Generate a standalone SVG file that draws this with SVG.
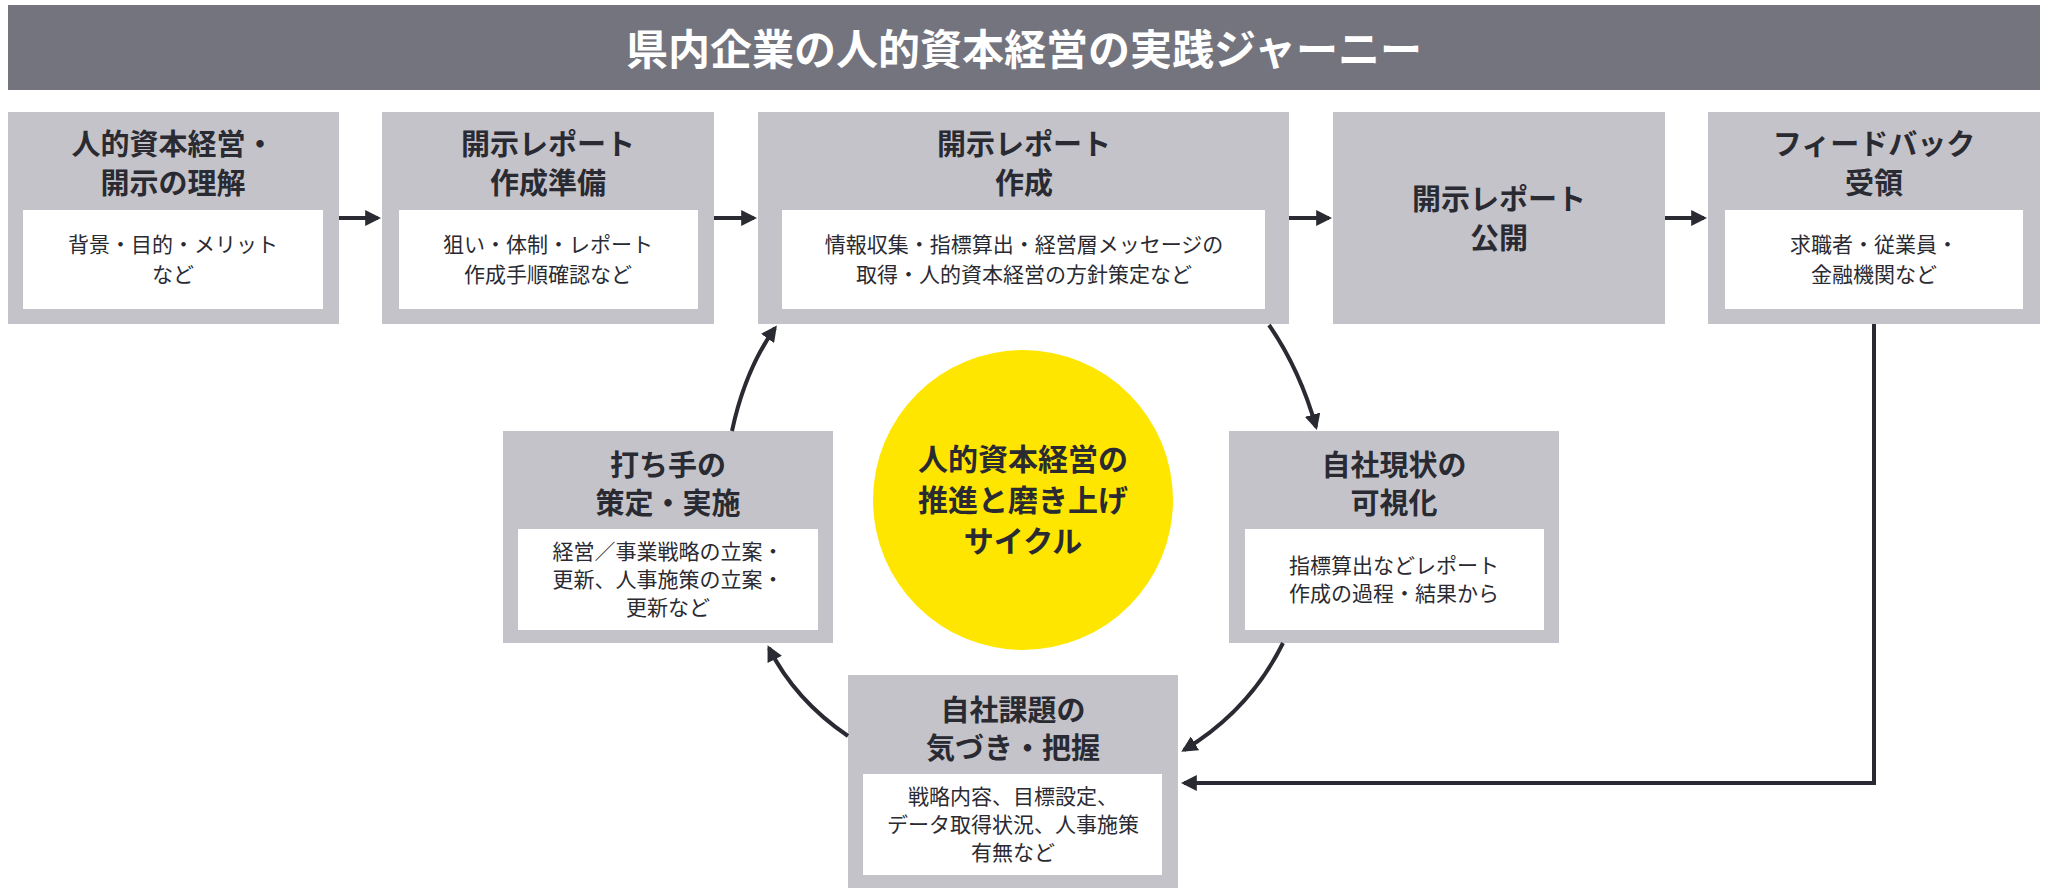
<svg xmlns="http://www.w3.org/2000/svg" width="2048" height="895" viewBox="0 0 2048 895">
<defs>
<style>
.box{fill:#c3c3c9}
.in{fill:#fff}
text{font-family:"Noto Sans CJK JP","Noto Sans",sans-serif;fill:#2a2a32;text-anchor:middle;dominant-baseline:central}
.t{font-size:29px;font-weight:700}
.b{font-size:21px}
.y{font-size:30px;font-weight:700}
.c{stroke:#2a2a32;stroke-width:4;fill:none}
</style>
<marker id="ah" viewBox="0 0 10 10" refX="8" refY="5" markerWidth="4" markerHeight="4" orient="auto"><path d="M0,0L10,5L0,10z" fill="#2a2a32"/></marker>
</defs>
<rect width="2048" height="895" fill="#fff"/>
<g id="title"><rect x="8" y="5" width="2032" height="85" fill="#74747e"/>
<text x="1024" y="46" style="font-size:42px;font-weight:700;fill:#fff">県内企業の人的資本経営の実践ジャーニー</text></g>
<g id="n1"><rect class="box" x="8" y="112" width="331" height="212"/><rect class="in" x="23" y="210" width="300" height="99"/>
<text class="t" x="173" y="142">人的資本経営・</text><text class="t" x="173" y="181">開示の理解</text>
<text class="b" x="173" y="243">背景・目的・メリット</text><text class="b" x="173" y="273">など</text></g>
<g id="n2"><rect class="box" x="382" y="112" width="332" height="212"/><rect class="in" x="399" y="210" width="299" height="99"/>
<text class="t" x="548" y="142">開示レポート</text><text class="t" x="548" y="181">作成準備</text>
<text class="b" x="548" y="243">狙い・体制・レポート</text><text class="b" x="548" y="273">作成手順確認など</text></g>
<g id="n3"><rect class="box" x="758" y="112" width="531" height="212"/><rect class="in" x="782" y="210" width="483" height="99"/>
<text class="t" x="1024" y="142">開示レポート</text><text class="t" x="1024" y="181">作成</text>
<text class="b" x="1024" y="243">情報収集・指標算出・経営層メッセージの</text><text class="b" x="1024" y="273">取得・人的資本経営の方針策定など</text></g>
<g id="n4"><rect class="box" x="1333" y="112" width="332" height="212"/>
<text class="t" x="1499" y="197">開示レポート</text><text class="t" x="1499" y="236">公開</text></g>
<g id="n5"><rect class="box" x="1708" y="112" width="332" height="212"/><rect class="in" x="1725" y="210" width="298" height="99"/>
<text class="t" x="1874" y="142">フィードバック</text><text class="t" x="1874" y="181">受領</text>
<text class="b" x="1874" y="243">求職者・従業員・</text><text class="b" x="1874" y="273">金融機関など</text></g>
<g id="center"><circle cx="1023" cy="500" r="150" fill="#ffe600"/>
<text class="y" x="1023" y="457">人的資本経営の</text>
<text class="y" x="1023" y="498">推進と磨き上げ</text>
<text class="y" x="1023" y="539">サイクル</text></g>
<g id="n6"><rect class="box" x="503" y="431" width="330" height="212"/><rect class="in" x="518" y="529" width="300" height="101"/>
<text class="t" x="668" y="463">打ち手の</text><text class="t" x="668" y="501">策定・実施</text>
<text class="b" x="668" y="550">経営／事業戦略の立案・</text><text class="b" x="668" y="578">更新、人事施策の立案・</text><text class="b" x="668" y="606">更新など</text></g>
<g id="n7"><rect class="box" x="1229" y="431" width="330" height="212"/><rect class="in" x="1245" y="529" width="299" height="101"/>
<text class="t" x="1394" y="463">自社現状の</text><text class="t" x="1394" y="501">可視化</text>
<text class="b" x="1394" y="564">指標算出などレポート</text><text class="b" x="1394" y="592">作成の過程・結果から</text></g>
<g id="n8"><rect class="box" x="848" y="675" width="330" height="213"/><rect class="in" x="863" y="774" width="299" height="101"/>
<text class="t" x="1013" y="708">自社課題の</text><text class="t" x="1013" y="746">気づき・把握</text>
<text class="b" x="1013" y="795">戦略内容、目標設定、</text><text class="b" x="1013" y="823">データ取得状況、人事施策</text><text class="b" x="1013" y="851">有無など</text></g>
<g id="connectors">
<path class="c" d="M339,218H378" marker-end="url(#ah)"/>
<path class="c" d="M714,218H754" marker-end="url(#ah)"/>
<path class="c" d="M1289,218H1329" marker-end="url(#ah)"/>
<path class="c" d="M1665,218H1704" marker-end="url(#ah)"/>
<path class="c" d="M732,431Q745,370 775,328" marker-end="url(#ah)"/>
<path class="c" d="M1269,325Q1300,370 1316,427" marker-end="url(#ah)"/>
<path class="c" d="M1283,643Q1250,710 1184,750" marker-end="url(#ah)"/>
<path class="c" d="M848,736Q795,700 769,648" marker-end="url(#ah)"/>
<path class="c" d="M1874,324V783H1184" marker-end="url(#ah)"/>
</g>
</svg>
